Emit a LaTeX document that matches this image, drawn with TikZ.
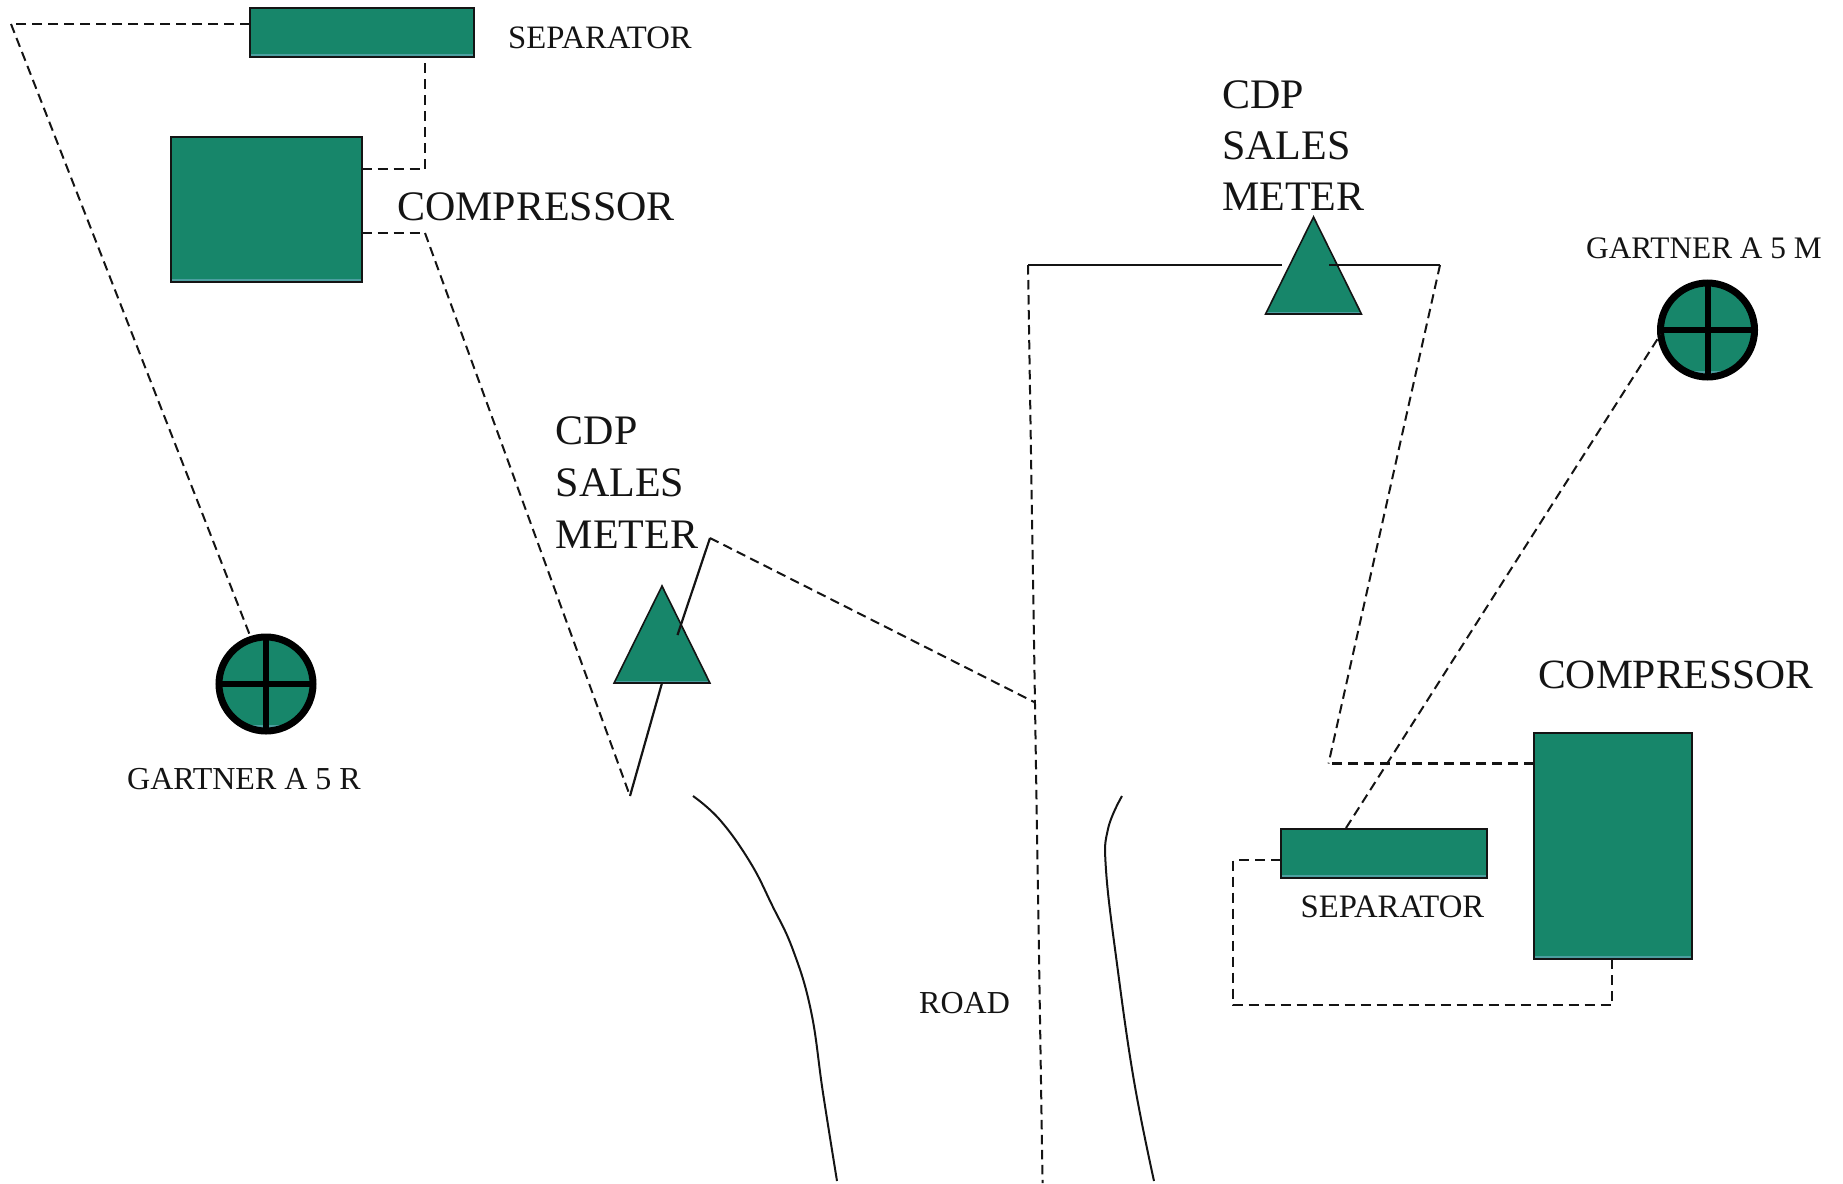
\documentclass[tikz,border=0pt]{standalone}
\usepackage{fontspec}
\setmainfont{Liberation Serif}
\usetikzlibrary{shapes.geometric,calc}
\definecolor{tank}{HTML}{17866A}
\definecolor{tankedge}{HTML}{4C9FA0}
\definecolor{ink}{HTML}{141414}
\tikzset{
  x=1pt,y=-1pt,
  strip/.style={path picture={\fill[tankedge] ($(path picture bounding box.south west)+(0,-#1)$) rectangle (path picture bounding box.south east);}},
  tankbox/.style={draw=ink,line width=2pt,fill=tank,rectangle,inner sep=0pt,outer sep=0pt,anchor=north west,strip=3},
  meter/.style={draw=ink,line width=1.6pt,fill=tank,isosceles triangle,isosceles triangle apex angle=52.6,isosceles triangle stretches=false,shape border rotate=90,inner sep=0pt,outer sep=0pt,minimum height=97pt,anchor=apex,strip=2},
  well/.style={draw=black,line width=7pt,fill=tank,circle,inner sep=0pt,outer sep=0pt,minimum size=94pt,strip=6},
  cross/.style={draw=black,line width=6pt},
  pipe/.style={draw=ink,line width=2.4pt,dash pattern=on 10pt off 6pt},
  thinpipe/.style={draw=ink,line width=2pt,dash pattern=on 9.5pt off 5.5pt},
  solidpipe/.style={draw=ink,line width=2.2pt},
  road/.style={draw=ink,line width=2pt},
  sm/.style={anchor=base west,inner sep=0pt,text=ink,font=\fontsize{32}{32}\selectfont},
  smw/.style={anchor=base west,inner sep=0pt,text=ink,font=\fontsize{32.7}{32.7}\selectfont},
  lg/.style={anchor=base west,inner sep=0pt,text=ink,font=\fontsize{42}{42}\selectfont},
}
\begin{document}
\begin{tikzpicture}
\useasboundingbox (0,0) rectangle (1843,1183);
% equipment
\node[tankbox,minimum width=223.5pt,minimum height=49pt] (sepa) at (250,7.5) {};
\node[tankbox,minimum width=191pt,minimum height=145pt] (compa) at (170.5,136.5) {};
\node[tankbox,minimum width=206pt,minimum height=49pt] (sepb) at (1280.5,828.5) {};
\node[tankbox,minimum width=158pt,minimum height=226pt] (compb) at (1534,732.5) {};
\node[meter] (mtra) at (662,586) {};
\node[meter] (mtrb) at (1313.5,217) {};
\node[well] (wella) at (266,684) {};
\node[well] (wellb) at (1707.5,330) {};
\draw[cross] (wella.north) -- (wella.south);
\draw[cross] (wella.west) -- (wella.east);
\draw[cross] (wellb.north) -- (wellb.south);
\draw[cross] (wellb.west) -- (wellb.east);
% bends
\coordinate (a1) at (11,24);
\coordinate (a2) at (425,169);
\coordinate (a3) at (425,233);
\coordinate (a4) at (630,796);
\coordinate (a5) at (710,538);
\coordinate (a6) at (677.5,635);
\coordinate (j) at (1034,702);
\coordinate (b1) at (1028,265);
\coordinate (b2) at (1042.6,1183);
\coordinate (b3) at (1440,265);
\coordinate (b4) at (1328.5,763.5);
\coordinate (b5) at (1233,860);
\coordinate (b6) at (1233,1005);
\coordinate (b7) at (1612,1005);
\coordinate (b8) at (1282,265);
\coordinate (b9) at (1329,265);
\coordinate (b10) at (1346,828);
% connectors
\draw[pipe] (sepa.west |- a1) -- (a1);
\draw[thinpipe] (a1) -- (wella.108);
\draw[pipe] (compa.east |- a2) -- (a2) -- (sepa.south -| a2);
\draw[pipe] (compa.east |- a3) -- (a3);
\draw[thinpipe] (a3) -- (a4);
\draw[solidpipe] (mtra.lower side) -- (a4);
\draw[solidpipe] (a6) -- (a5);
\draw[thinpipe] (a5) -- (j);
\draw[solidpipe] (b8) -- (b1);
\draw[thinpipe] (b1) -- (b2);
\draw[solidpipe] (b9) -- (b3);
\draw[thinpipe] (b3) -- (b4);
\draw[pipe] (compb.west |- b4) -- (b4);
\draw[pipe] (sepb.west |- b5) -- (b5) -- (b6) -- (b7) -- (compb.south -| b7);
\draw[thinpipe] (b10) -- (wellb.185);
% road
\draw[road] plot[smooth,tension=0.7] coordinates {(693,796) (720,820) (750,862) (772,905) (793,950) (811,1011) (823,1093) (837,1181)};
\draw[road] plot[smooth,tension=0.7] coordinates {(1122,796) (1108,829) (1106,870) (1117,964) (1134,1081) (1154,1181)};
% labels
\node[smw] (t1) at (508,48.5) {SEPARATOR};
\node[lg] (t2) at (397,220) {COMPRESSOR};
\node[lg] (t3a) at (555.5,444) {CDP};
\node[lg] (t3b) at (555.5,496) {SALES};
\node[lg] (t3c) at (555.5,548) {METER};
\node[sm] (t4) at (127,789) {GARTNER A 5 R};
\node[lg] (t5a) at (1222,108) {CDP};
\node[lg] (t5b) at (1222,159) {SALES};
\node[lg] (t5c) at (1222,210.5) {METER};
\node[sm,font=\fontsize{31.3}{31.3}\selectfont] (t6) at (1586,258) {GARTNER A 5 M};
\node[lg,font=\fontsize{41.6}{41.6}\selectfont] (t7) at (1538,688) {COMPRESSOR};
\node[smw] (t8) at (1300.5,917.5) {SEPARATOR};
\node[sm] (t9) at (919,1013) {ROAD};
\end{tikzpicture}
\end{document}
